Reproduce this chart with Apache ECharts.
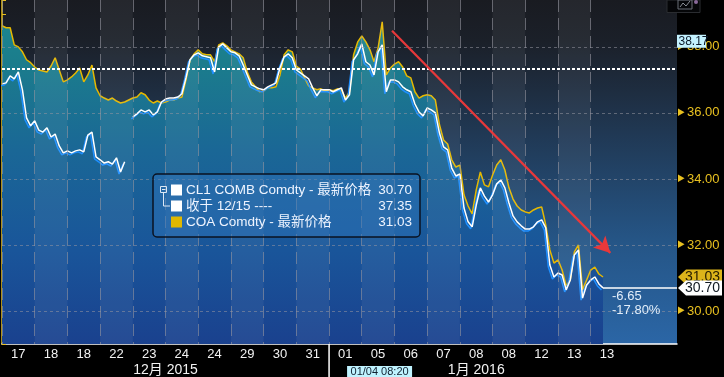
<!DOCTYPE html>
<html><head><meta charset="utf-8">
<script src="https://cdn.jsdelivr.net/npm/echarts@6/dist/echarts.min.js"></script>
<style>html,body{margin:0;padding:0;background:#000;}#c{width:724px;height:377px;}</style>
</head><body><div id="c"></div>
<script>
// ---------- data ----------
const bandLabels = ['17','18','18','22','23','24','24','29','30','31','01','05','06','07','08','08','12','13','13'];
const months = [{text:'12月 2015', fromBand:0, toBand:10}, {text:'1月 2016', fromBand:10, toBand:19}];
const stepsPerBand = 8;
const axisMaxStep = 165.1;
const yMin = 29, yMax = 39.42;
const yGridValues = [30, 32, 34, 36, 38];

// COA Comdty (yellow, with area)
const coa = [
38.64,38.58,38.58,38.06,38.00,37.85,37.61,37.52,37.39,37.30,
37.27,37.24,37.42,37.67,37.30,36.94,37.00,37.09,37.21,37.36,
36.94,37.15,37.45,36.76,36.52,36.45,36.39,36.45,36.36,36.30,
36.33,36.39,36.45,36.48,36.61,36.55,36.39,36.30,36.36,36.30,
36.33,36.39,36.39,36.45,36.48,37.00,37.61,37.79,37.91,37.79,
37.76,37.76,37.55,38.06,38.12,38.03,37.91,37.85,37.79,37.67,
37.24,36.94,36.79,36.64,36.67,36.76,36.76,36.79,37.15,37.76,
37.91,37.85,37.42,37.33,37.06,36.82,36.76,36.70,36.73,36.67,
36.70,36.67,36.73,36.70,36.45,36.64,37.76,38.15,38.33,38.15,
37.91,37.55,37.97,38.76,37.15,37.36,37.48,37.55,37.39,37.12,
37.06,36.64,36.45,36.52,36.55,36.52,36.39,35.64,35.18,35.06,
34.58,34.36,34.42,33.52,33.18,32.94,33.67,34.21,33.82,33.76,
34.12,34.42,34.58,34.27,33.73,33.39,33.18,33.06,33.00,32.97,
33.06,33.12,33.15,32.61,31.85,31.45,31.55,31.24,30.76,30.94,
31.79,32.00,30.64,30.94,31.24,31.33,31.12,31.03];

// CL1 COMB Comdty (white)
const cl1 = [
36.88,36.91,37.12,37.03,37.24,36.70,35.85,35.61,35.76,35.48,
35.42,35.55,35.27,35.36,35.00,34.79,34.85,34.79,34.85,34.88,
34.82,35.33,35.42,34.67,34.58,34.48,34.52,34.45,34.64,34.21,
34.52,null,35.88,35.97,36.09,36.03,36.09,35.94,36.03,36.33,
36.42,36.45,36.45,36.48,36.58,37.06,37.61,37.76,37.82,37.73,
37.70,37.67,37.24,38.00,38.09,37.97,37.85,37.82,37.73,37.45,
37.15,36.85,36.79,36.73,36.70,36.79,36.85,36.91,37.36,37.70,
37.79,37.67,37.30,37.21,37.12,37.03,36.76,36.52,36.70,36.70,
36.70,36.64,36.70,36.76,36.39,36.55,37.61,37.79,38.09,37.55,
37.45,37.15,37.85,38.06,36.64,37.00,37.00,36.94,36.79,36.70,
36.64,36.27,36.03,35.91,36.15,36.09,36.00,35.39,34.97,34.88,
34.33,34.09,34.15,33.12,32.70,32.55,33.21,33.73,33.48,33.30,
33.52,33.85,33.97,33.73,33.27,32.88,32.70,32.58,32.48,32.48,
32.55,32.70,32.76,32.52,31.39,31.03,31.15,31.09,30.64,30.94,
31.70,31.85,30.39,30.79,30.94,31.03,30.82,30.70];

const refClose = 37.35;          // 收于 12/15
const lastCL1 = 30.70;
const lastCOA = 31.03;
const highMark = 38.17;
const changeAbs = '-6.65';
const changePct = '-17.80%';
const arrowFrom = [95.4, 38.49];
const arrowTo = [148.8, 31.76];
const cursorLabel = '01/04 08:20';

// ---------- chart ----------
const FONT = "'Liberation Sans','Noto Sans CJK SC',sans-serif";
const YEL = '#e8c020';
const chart = echarts.init(document.getElementById('c'));
const toXY = arr => arr.map((v, i) => [i, v]);
const lastIdx = cl1.length - 1;

const option = {
  backgroundColor: '#000',
  animation: false,
  textStyle: {fontFamily: FONT},
  grid: [
    {left: 2, right: 47, top: 0, bottom: 33, show: true, borderWidth: 0,
     backgroundColor: {type: 'linear', x: 0, y: 0, x2: 0, y2: 1, colorStops: [
       {offset: 0, color: '#191b21'}, {offset: 0.12, color: '#1b2029'},
       {offset: 0.32, color: '#1f3249'}, {offset: 0.7, color: '#255586'},
       {offset: 1, color: '#2b66a6'}]}},
    {left: 2, top: 0, bottom: 33, width: 19 * 32.7}
  ],
  xAxis: [
    {type: 'value', gridIndex: 0, min: 0, max: axisMaxStep,
     axisLine: {show: true, onZero: false, lineStyle: {color: '#fff', width: 1.5}},
     axisTick: {show: false}, axisLabel: {show: false}, splitLine: {show: false}},
    {type: 'category', gridIndex: 1, data: bandLabels, boundaryGap: true, z: 5,
     axisLine: {show: false}, axisTick: {show: false},
     axisLabel: {color: '#f2f2f2', fontSize: 13, margin: 4, fontFamily: FONT},
     splitLine: {show: true, showMaxLine: false, lineStyle: {color: 'rgba(150,150,160,0.6)', type: [12, 6], width: 1}},
     splitArea: {show: true, areaStyle: {color: ['rgba(0,0,0,0)', 'rgba(255,255,255,0.055)']}}}
  ],
  yAxis: [
    {type: 'value', gridIndex: 0, position: 'right', min: yMin, max: yMax, interval: 1,
     axisLine: {show: true, lineStyle: {color: YEL, width: 1.5}},
     axisTick: {show: true, length: 4, lineStyle: {color: YEL, width: 1}},
     axisLabel: {color: YEL, fontSize: 13, margin: 0, fontFamily: FONT,
       formatter: v => (yGridValues.indexOf(v) >= 0) ? '{t|▶}' + v.toFixed(2) : '',
       rich: {t: {fontSize: 8, color: YEL, padding: [0, 2, 0, 0]}}},
     splitLine: {show: false}},
    {type: 'value', gridIndex: 1, show: false, min: yMin, max: yMax}
  ],
  series: [
    {name: 'COA', type: 'line', data: toXY(coa), symbol: 'none', z: 2,
     lineStyle: {color: '#e6b800', width: 1.5},
     areaStyle: {color: {type: 'linear', x: 0, y: 0, x2: 0, y2: 1, colorStops: [
       {offset: 0, color: '#1b8590'}, {offset: 0.12, color: '#1b7d8c'},
       {offset: 0.4, color: '#1a6796'}, {offset: 0.71, color: '#19559a'},
       {offset: 1, color: '#1a418e'}]}, opacity: 1}},
    {name: 'CL1', type: 'line', data: toXY(cl1), symbol: 'none', z: 3, connectNulls: false,
     lineStyle: {color: '#ffffff', width: 1.5, shadowColor: '#1f8fff', shadowBlur: 0, shadowOffsetX: -1.5, shadowOffsetY: 2}},
    {name: 'grid', type: 'line', data: [], z: 4, silent: true,
     markLine: {silent: true, symbol: 'none', label: {show: false},
       lineStyle: {color: 'rgba(150,150,160,0.55)', type: [3, 3], width: 1},
       data: yGridValues.map(v => ({yAxis: v}))}},
    {name: 'ann', type: 'line', data: [], z: 6, silent: true,
     markLine: {silent: true, symbol: 'none', label: {show: false}, data: [
       {yAxis: refClose, lineStyle: {color: '#ffffff', type: [3, 2], width: 2}},
       [{coord: [lastIdx, lastCL1]}, {coord: [axisMaxStep, lastCL1], lineStyle: {color: '#ffffff', type: 'solid', width: 1.5}}]
     ]}},
    {name: 'arrow', type: 'line', data: [], z: 7, silent: true,
     markLine: {silent: true, symbol: ['none', 'arrow'], symbolSize: [13, 16], label: {show: false},
       lineStyle: {color: '#e8383a', type: 'solid', width: 2.2},
       data: [[{coord: arrowFrom}, {coord: arrowTo}]]}}
  ]
};
chart.setOption(option);

// ---------- overlays positioned via the axes ----------
const px = (s, v) => chart.convertToPixel({xAxisIndex: 0, yAxisIndex: 0}, [s, v]);
const axisX = px(axisMaxStep, yMin)[0];
const bottomY = px(0, yMin)[1];
const g = [];

function pointerLabel(val, text, bg, fg, z) {
  const y = px(0, val)[1];
  const x0 = axisX + 1;
  g.push({type: 'polygon', z: z, shape: {points: [[x0, y], [x0 + 8, y - 7.5], [x0 + 44, y - 7.5], [x0 + 44, y + 7.5], [x0 + 8, y + 7.5]]},
          style: {fill: bg}});
  g.push({type: 'text', z: z + 1, x: x0 + 42, y: y, style: {text: text, fill: fg, font: '14px ' + FONT, align: 'right', verticalAlign: 'middle'}});
}
pointerLabel(lastCOA, lastCOA.toFixed(2), '#dcb41a', '#2a2000', 20);
pointerLabel(lastCL1, lastCL1.toFixed(2), '#ffffff', '#101820', 22);

// high marker
{
  const y = px(0, highMark)[1];
  g.push({type: 'rect', z: 20, shape: {x: axisX, y: y - 6.5, width: 29, height: 13}, style: {fill: '#c4f2ff'}});
  g.push({type: 'text', z: 21, x: axisX + 1.5, y: y, style: {text: highMark.toFixed(2), fill: '#0c1a2a', font: '12px ' + FONT, verticalAlign: 'middle'}});
}

// change texts
{
  const p = px(lastIdx, lastCL1);
  g.push({type: 'text', z: 20, x: p[0] + 9, y: p[1] + 9, style: {text: changeAbs, fill: '#e2eefa', font: '13px ' + FONT, verticalAlign: 'middle'}});
  g.push({type: 'text', z: 20, x: p[0] + 9, y: p[1] + 23, style: {text: changePct, fill: '#e2eefa', font: '13px ' + FONT, verticalAlign: 'middle'}});
}

// month labels + year separator
months.forEach(m => {
  const xa = px(m.fromBand * stepsPerBand, yMin)[0];
  const xb = px(m.toBand * stepsPerBand, yMin)[0];
  g.push({type: 'text', z: 20, x: (xa + xb) / 2, y: bottomY + 26, style: {text: m.text, fill: '#f2f2f2', font: '14px ' + FONT, align: 'center', verticalAlign: 'middle'}});
});
{
  const xs = px(months[1].fromBand * stepsPerBand, yMin)[0];
  g.push({type: 'line', z: 20, shape: {x1: xs, y1: bottomY, x2: xs, y2: 377}, style: {stroke: '#ffffff', lineWidth: 1.5}});
  g.push({type: 'rect', z: 20, shape: {x: xs + 18, y: 366, width: 65, height: 11}, style: {fill: '#bff3ff'}});
  g.push({type: 'text', z: 21, x: xs + 50.5, y: 372, style: {text: cursorLabel, fill: '#102030', font: '11px ' + FONT, align: 'center', verticalAlign: 'middle'}});
}

// legend box
{
  const L = 153, T = 174;
  g.push({type: 'rect', z: 30, shape: {x: L, y: T, width: 267, height: 63, r: 4},
          style: {fill: 'rgba(48,118,188,0.45)', stroke: '#0a1220', lineWidth: 1.5}});
  const rows = [
    {sw: '#ffffff', label: 'CL1 COMB Comdty - 最新价格', val: lastCL1.toFixed(2)},
    {sw: '#ffffff', label: '收于 12/15 ----', val: refClose.toFixed(2)},
    {sw: '#e0b800', label: 'COA Comdty - 最新价格', val: lastCOA.toFixed(2)}
  ];
  rows.forEach((r, i) => {
    const cy = T + 16 + i * 16;
    g.push({type: 'rect', z: 31, shape: {x: L + 18, y: cy - 5.5, width: 11, height: 11}, style: {fill: r.sw}});
    g.push({type: 'text', z: 31, x: L + 33, y: cy, style: {text: r.label, fill: '#eef4ff', font: '13.5px ' + FONT, verticalAlign: 'middle'}});
    g.push({type: 'text', z: 31, x: L + 259, y: cy, style: {text: r.val, fill: '#eef4ff', font: '13.5px ' + FONT, align: 'right', verticalAlign: 'middle'}});
  });
  // tree glyph
  g.push({type: 'rect', z: 31, shape: {x: L + 7.5, y: T + 12.5, width: 6, height: 6}, style: {fill: 'none', stroke: '#dde8f5', lineWidth: 1}});
  g.push({type: 'line', z: 31, shape: {x1: L + 9, y1: T + 15.5, x2: L + 12.5, y2: T + 15.5}, style: {stroke: '#dde8f5', lineWidth: 1}});
  g.push({type: 'polyline', z: 31, shape: {points: [[L + 10.5, T + 18.5], [L + 10.5, T + 32], [L + 17, T + 32]]}, style: {fill: 'none', stroke: '#dde8f5', lineWidth: 1}});
}

// small icon top right
g.push({type: 'rect', z: 40, shape: {x: axisX - 10, y: 0, width: 33, height: 12.5}, style: {fill: '#050608', stroke: '#2a2c30', lineWidth: 1}});
g.push({type: 'rect', z: 41, shape: {x: axisX + 1, y: 0, width: 14, height: 9}, style: {fill: 'none', stroke: '#6b6f76', lineWidth: 1}});
g.push({type: 'polyline', z: 41, shape: {points: [[axisX + 3, 7], [axisX + 6, 3], [axisX + 9, 6], [axisX + 13, 1]]}, style: {fill: 'none', stroke: '#8a8e96', lineWidth: 1}});
g.push({type: 'circle', z: 41, shape: {cx: axisX + 19, cy: 2, r: 2}, style: {fill: '#8a6a9a'}});

chart.setOption({graphic: g});
</script></body></html>
